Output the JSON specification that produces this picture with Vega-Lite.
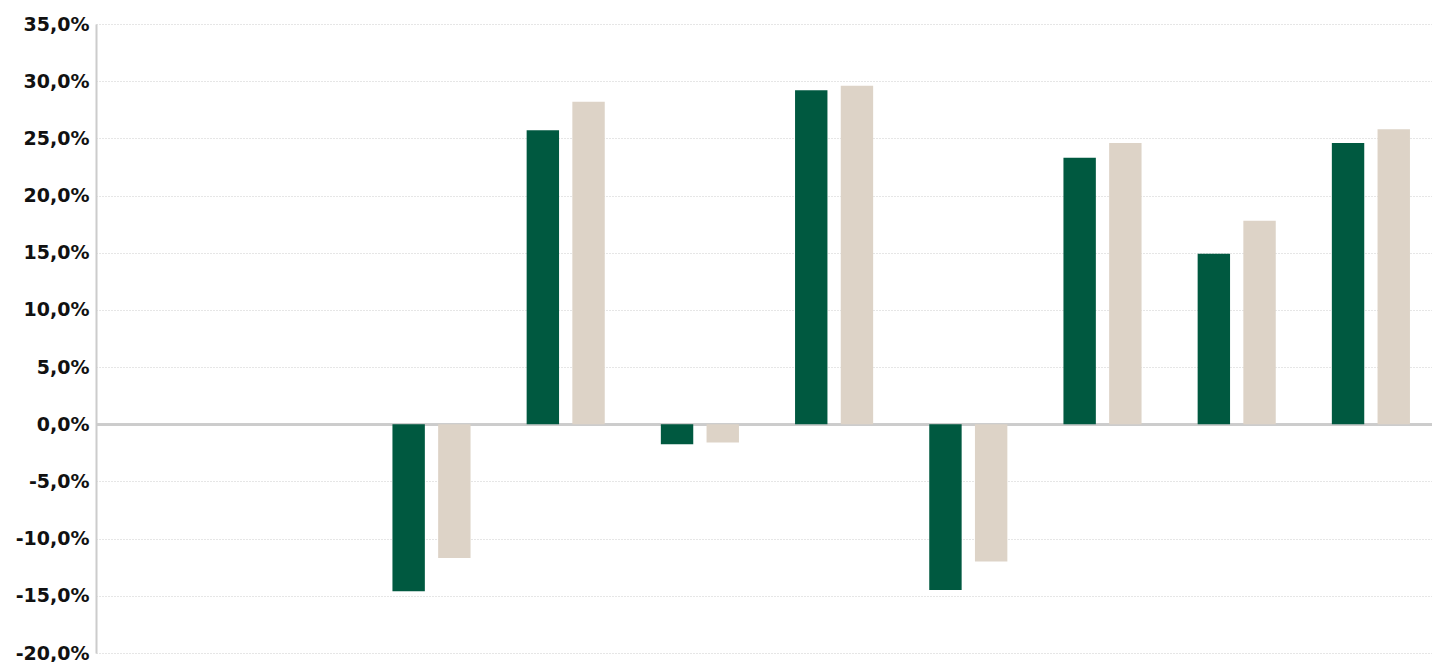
{
  "$schema": "https://vega.github.io/schema/vega-lite/v6.json",
  "width": 1342,
  "height": 629,
  "autosize": {"type": "none"},
  "padding": {"left": 96, "top": 24, "right": 0, "bottom": 9},
  "config": {
    "locale": {"number": {"decimal": ",", "thousands": ".", "grouping": [3], "currency": ["", " €"], "minus": "-"}},
    "view": {"stroke": null},
    "font": "DejaVu Sans"
  },
  "data": {
    "values": [
      {"periodo": "2014", "serie": "Fondo", "valore": null},
      {"periodo": "2014", "serie": "Benchmark", "valore": null},
      {"periodo": "2015", "serie": "Fondo", "valore": null},
      {"periodo": "2015", "serie": "Benchmark", "valore": null},
      {"periodo": "2016", "serie": "Fondo", "valore": -0.146},
      {"periodo": "2016", "serie": "Benchmark", "valore": -0.117},
      {"periodo": "2017", "serie": "Fondo", "valore": 0.257},
      {"periodo": "2017", "serie": "Benchmark", "valore": 0.282},
      {"periodo": "2018", "serie": "Fondo", "valore": -0.0175},
      {"periodo": "2018", "serie": "Benchmark", "valore": -0.016},
      {"periodo": "2019", "serie": "Fondo", "valore": 0.292},
      {"periodo": "2019", "serie": "Benchmark", "valore": 0.296},
      {"periodo": "2020", "serie": "Fondo", "valore": -0.145},
      {"periodo": "2020", "serie": "Benchmark", "valore": -0.120},
      {"periodo": "2021", "serie": "Fondo", "valore": 0.233},
      {"periodo": "2021", "serie": "Benchmark", "valore": 0.246},
      {"periodo": "2022", "serie": "Fondo", "valore": 0.149},
      {"periodo": "2022", "serie": "Benchmark", "valore": 0.178},
      {"periodo": "2023", "serie": "Fondo", "valore": 0.246},
      {"periodo": "2023", "serie": "Benchmark", "valore": 0.258}
    ]
  },
  "layer": [
    {
      "mark": {"type": "rule", "color": "#cccccc", "strokeWidth": 2},
      "encoding": {"y": {"datum": 0, "type": "quantitative"}}
    },
    {
      "mark": {"type": "bar"},
      "encoding": {
        "x": {
          "field": "periodo",
          "type": "nominal",
          "sort": null,
          "scale": {"domain": ["2014", "2015", "2016", "2017", "2018", "2019", "2020", "2021", "2022", "2023"], "paddingInner": 0.418, "paddingOuter": 0.209},
          "axis": null
        },
        "xOffset": {
          "field": "serie",
          "type": "nominal",
          "sort": ["Fondo", "Benchmark"],
          "scale": {"domain": ["Fondo", "Benchmark"], "paddingInner": 0.291, "paddingOuter": 0}
        },
        "y": {
          "field": "valore",
          "type": "quantitative",
          "scale": {"domain": [-0.2, 0.35], "nice": false, "zero": false},
          "axis": {
            "title": null,
            "format": ".1%",
            "values": [-0.2, -0.15, -0.1, -0.05, 0, 0.05, 0.1, 0.15, 0.2, 0.25, 0.3, 0.35],
            "labelFont": "DejaVu Sans",
            "labelFontWeight": "bold",
            "labelFontSize": 19,
            "labelColor": "#111111",
            "labelPadding": 7,
            "ticks": false,
            "domain": true,
            "domainColor": "#cccccc",
            "domainWidth": 2,
            "grid": true,
            "gridColor": "#cccccc",
            "gridDash": [1, 2],
            "gridWidth": 1
          }
        },
        "color": {
          "field": "serie",
          "type": "nominal",
          "scale": {"domain": ["Fondo", "Benchmark"], "range": ["#005940", "#ddd3c7"]},
          "legend": null
        }
      }
    }
  ]
}
